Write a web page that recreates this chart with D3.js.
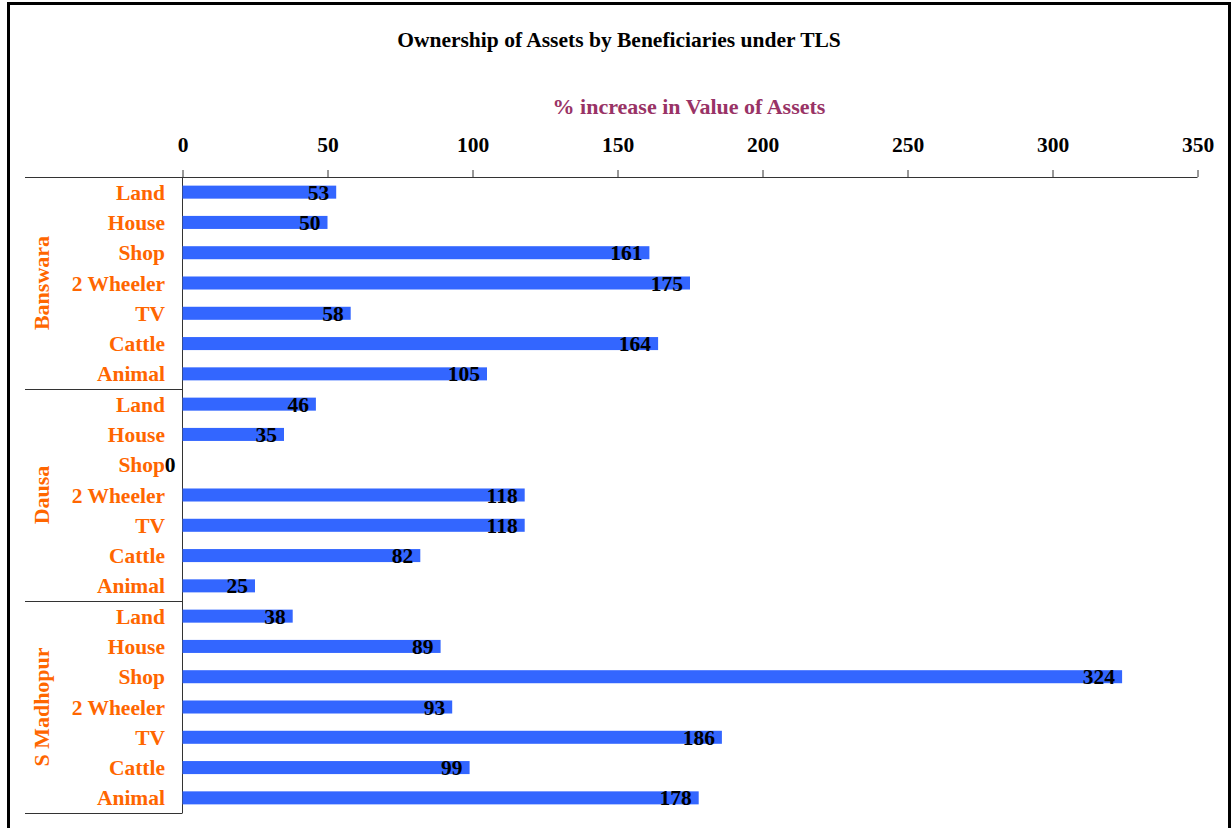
<!DOCTYPE html>
<html><head><meta charset="utf-8">
<script src="https://cdn.jsdelivr.net/npm/d3@7"></script>
<style>body{margin:0;background:#fff}svg{display:block}text{font-family:"Liberation Serif","Times New Roman",serif;font-weight:bold}</style>
</head><body>
<svg id="c" width="1232" height="828"></svg>
<script>
const groups = ["Banswara", "Dausa", "S Madhopur"];
const assets = ["Land", "House", "Shop", "2 Wheeler", "TV", "Cattle", "Animal"];
const banswara = [53, 50, 161, 175, 58, 164, 105];
const dausa = [46, 35, 0, 118, 118, 82, 25];
const sMadhopur = [38, 89, 324, 93, 186, 99, 178];
const xTicks = [0, 50, 100, 150, 200, 250, 300, 350];
const title = "Ownership of Assets by Beneficiaries under TLS";
const xTitle = "% increase in Value of Assets";

(function () {
const seriesVals = [banswara, dausa, sMadhopur];
const rows = [];
groups.forEach((g, gi) => assets.forEach((a, ai) => rows.push({g, a, key: g + "|" + a, v: seriesVals[gi][ai]})));

const svg = d3.select("#c");
const pL = 182.5, pR = 1197.5, pT = 177, pB = 813;
const FS = 21.5;
const x = d3.scaleLinear().domain([0, 350]).range([pL, pR]);
const y = d3.scaleBand().domain(rows.map(r => r.key)).range([pT, pB]).paddingInner(0.57).paddingOuter(0.285);

// frame
svg.append("rect").attr("x", 8.5).attr("y", 3.5).attr("width", 1221).attr("height", 860)
  .attr("fill", "none").attr("stroke", "#000").attr("stroke-width", 3);

svg.append("text").attr("x", 619).attr("y", 47).attr("text-anchor", "middle")
  .attr("font-size", 21.5).attr("fill", "#000").text(title);
svg.append("text").attr("x", 689).attr("y", 114).attr("text-anchor", "middle")
  .attr("font-size", 22).attr("fill", "#993366").text(xTitle);

// top axis
const ax = svg.append("g").attr("transform", `translate(0,${pT})`)
  .call(d3.axisTop(x).tickValues(xTicks).tickSize(7).tickPadding(18).tickSizeOuter(0));
ax.select(".domain").remove();
ax.selectAll(".tick line").attr("stroke", "#333");
ax.selectAll(".tick text").attr("font-size", FS).attr("fill", "#000")
  .attr("font-family", "Liberation Serif, serif").attr("font-weight", "bold");
svg.append("line").attr("x1", 25).attr("x2", pR).attr("y1", pT + 0.5).attr("y2", pT + 0.5).attr("stroke", "#333");

// y axis line & group separators
svg.append("line").attr("x1", pL).attr("x2", pL).attr("y1", pT).attr("y2", pB).attr("stroke", "#333");
const gh = (pB - pT) / groups.length;
groups.forEach((g, i) => {
  const y1 = pT + (i + 1) * gh;
  svg.append("line").attr("x1", 25).attr("x2", pL).attr("y1", y1 + 0.5).attr("y2", y1 + 0.5).attr("stroke", "#333");
  const cy = pT + (i + 0.5) * gh;
  svg.append("text").attr("transform", `translate(49,${cy}) rotate(-90)`).attr("text-anchor", "middle")
    .attr("font-size", 22).attr("fill", "#FF6600").text(g);
});

// bars
svg.selectAll("rect.bar").data(rows).join("rect").attr("class", "bar")
  .attr("x", x(0)).attr("y", d => y(d.key)).attr("width", d => x(d.v) - x(0)).attr("height", y.bandwidth())
  .attr("fill", "#3366FF");

// category labels
svg.selectAll("text.cat").data(rows).join("text").attr("class", "cat")
  .attr("x", 165).attr("y", d => y(d.key) + y.bandwidth() / 2 + 7.5).attr("text-anchor", "end")
  .attr("font-size", FS).attr("fill", "#FF6600").text(d => d.a);

// value labels
svg.selectAll("text.val").data(rows).join("text").attr("class", "val")
  .attr("x", d => x(d.v) - 7).attr("y", d => y(d.key) + y.bandwidth() / 2 + 7.5).attr("text-anchor", "end")
  .attr("font-size", FS).attr("fill", "#000").text(d => d.v);
})();
</script>
</body></html>
